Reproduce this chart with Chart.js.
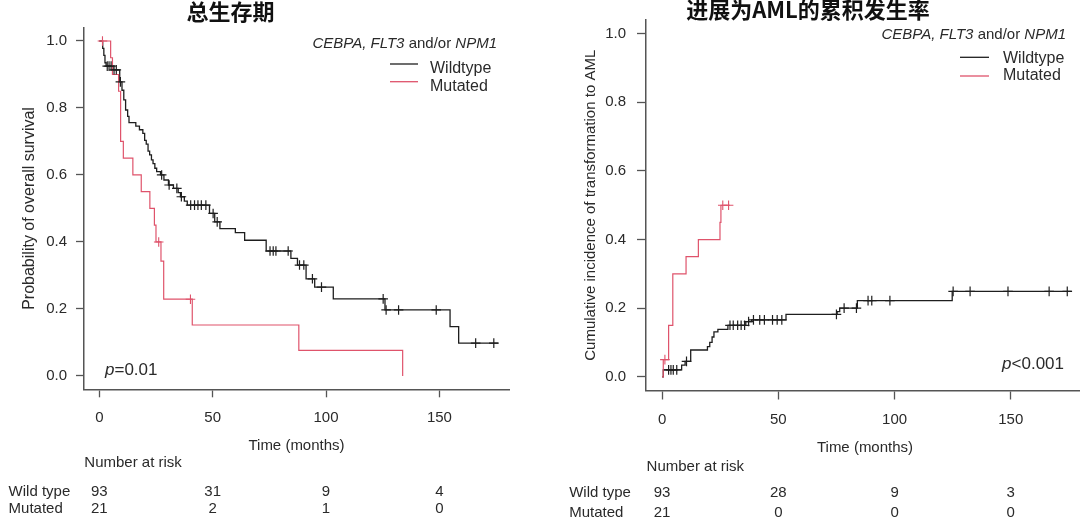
<!DOCTYPE html>
<html><head><meta charset="utf-8">
<script src="https://cdn.jsdelivr.net/npm/chart.js@4.4.1/dist/chart.umd.min.js"></script>
<style>
html,body{margin:0;padding:0;background:#fff;overflow:hidden;width:1080px;height:521px;}
#wrap{position:relative;width:1080px;height:521px;overflow:hidden;background:#fff;}
canvas{position:absolute;top:0;}
#c1{left:0;} #c2{left:540px;}
</style></head><body>
<div id="wrap"><canvas id="c1" width="540" height="521"></canvas><canvas id="c2" width="560" height="521"></canvas></div>
<script>
// ---------- data ----------
const xTicks = [0, 50, 100, 150];
const yTicks = [0, 0.2, 0.4, 0.6, 0.8, 1.0];
const riskTimes = [0, 50, 100, 150];
const groupLabels = ["Wildtype", "Mutated"];
const riskRowLabels = ["Wild type", "Mutated"];

// Overall survival (left)
const osWildSteps = [[0,1.0],[1.5,0.978],[2,0.957],[2.5,0.935],[3,0.925],[6,0.914],[9,0.878],[10,0.853],[10.8,0.824],[11.6,0.794],[12.5,0.775],[13.1,0.756],[16.1,0.746],[17.7,0.735],[19.2,0.724],[20,0.703],[20.7,0.692],[21.5,0.671],[22.2,0.66],[23,0.645],[23.7,0.634],[24.5,0.62],[25.3,0.61],[27,0.6],[28.5,0.585],[30.5,0.57],[32.7,0.56],[34.8,0.547],[35.8,0.535],[37.5,0.522],[38.8,0.51],[48.6,0.485],[50.9,0.46],[53.2,0.44],[60,0.428],[64.1,0.405],[73.6,0.373],[84.5,0.351],[87.4,0.331],[91.2,0.29],[95,0.265],[103.2,0.23],[126,0.197],[154.7,0.147],[158.5,0.098],[176,0.098]];
const osWildCens = [[3.5,0.925],[4.3,0.925],[5.2,0.925],[6.5,0.914],[7.5,0.914],[9.3,0.878],[27.5,0.6],[30.8,0.57],[34.2,0.56],[36.2,0.535],[40.3,0.51],[42,0.51],[43.5,0.51],[45,0.51],[47,0.51],[50.2,0.485],[52,0.46],[75.3,0.373],[76.7,0.373],[77.9,0.373],[83.3,0.373],[88.3,0.331],[90.2,0.331],[94,0.29],[98,0.265],[125.2,0.23],[126.5,0.197],[132,0.197],[148.6,0.197],[166,0.098],[174,0.098]];
const osMutSteps = [[0,1],[5,0.95],[5.8,0.90],[8.5,0.85],[9.4,0.70],[10.6,0.65],[14.8,0.60],[18.5,0.55],[22.3,0.50],[24.3,0.45],[25,0.40],[27.2,0.343],[28.4,0.229],[41,0.152],[88,0.076],[133.8,0]];
const osMutCens = [[1.4,1.0],[26.2,0.40],[40.2,0.229]];
const osRiskWild = [93, 31, 9, 4];
const osRiskMut = [21, 2, 1, 0];

// Cumulative incidence of AML (right)
const cifWildSteps = [[0,0],[0.5,0.02],[8.4,0.034],[9.9,0.045],[12.3,0.078],[19.5,0.088],[20.5,0.10],[21.5,0.116],[22.3,0.131],[24,0.138],[28.3,0.15],[36,0.161],[38.5,0.166],[53.3,0.182],[75.3,0.19],[76.4,0.2],[84,0.222],[124.8,0.249],[176.2,0.249]];
const cifWildCens = [[2.8,0.02],[3.8,0.02],[4.8,0.02],[6.3,0.02],[10.5,0.045],[29.2,0.15],[30.6,0.15],[32.5,0.15],[34,0.15],[35.5,0.15],[37.2,0.161],[39.3,0.166],[42,0.166],[44,0.166],[47.5,0.166],[49.5,0.166],[51.5,0.166],[75,0.182],[78.3,0.2],[83.6,0.2],[88.6,0.222],[90.2,0.222],[98,0.222],[125.2,0.249],[132.5,0.249],[148.8,0.249],[166.5,0.249],[174.3,0.249]];
const cifMutSteps = [[0,0],[0.5,0.05],[2.8,0.15],[4.6,0.30],[10.3,0.35],[15.6,0.40],[24.9,0.45],[25.3,0.50],[29.2,0.50]];
const cifMutCens = [[1.2,0.05],[26.1,0.50],[28.6,0.50]];
const cifRiskWild = [93, 28, 9, 3];
const cifRiskMut = [21, 0, 0, 0];

// ---------- drawing ----------
const FF = "'Liberation Sans', Arial, Helvetica, sans-serif";
const CJK = "'Noto Sans CJK SC', 'Noto Sans CJK JP', sans-serif";
const BLACK = '#1e1e1e';
const RED = '#DF536B';
const AXIS = '#555555';
const TXT = '#2a2a2a';
Chart.defaults.font.family = FF;
Chart.defaults.color = TXT;

const toXY = arr => arr.map(p => ({x: p[0], y: p[1]}));

function drawRich(ctx, parts, x, y, align, size) {
  const widths = parts.map(p => { ctx.font = (p[1] ? 'italic ' : '') + size + 'px ' + FF; return ctx.measureText(p[0]).width; });
  const total = widths.reduce((a, b) => a + b, 0);
  let cx = align === 'right' ? x - total : x;
  ctx.textAlign = 'left'; ctx.textBaseline = 'middle'; ctx.fillStyle = TXT;
  parts.forEach((p, i) => { ctx.font = (p[1] ? 'italic ' : '') + size + 'px ' + FF; ctx.fillText(p[0], cx, y); cx += widths[i]; });
}

const annotPlugin = {
  id: 'annot',
  afterDraw(chart, args, o) {
    const ctx = chart.ctx;
    const xs = chart.scales.x;
    ctx.save();
    // title
    ctx.fillStyle = '#111';
    ctx.font = 'bold 22px ' + CJK;
    ctx.textAlign = 'center'; ctx.textBaseline = 'middle';
    ctx.fillText(o.title, o.titleX, o.titleY);
    // legend header
    drawRich(ctx, [['CEBPA, FLT3', true], [' and/or ', false], ['NPM1', true]], o.legRight, o.legHeadY, 'right', 15);
    // legend entries
    const cols = [BLACK, RED];
    for (let i = 0; i < 2; i++) {
      ctx.strokeStyle = cols[i]; ctx.lineWidth = 1.3;
      ctx.beginPath(); ctx.moveTo(o.legLineX0, o.legLineY[i]); ctx.lineTo(o.legLineX1, o.legLineY[i]); ctx.stroke();
      ctx.fillStyle = TXT; ctx.font = '16px ' + FF; ctx.textAlign = 'left'; ctx.textBaseline = 'middle';
      ctx.fillText(groupLabels[i], o.legTextX, o.legTextY[i]);
    }
    // p-value
    drawRich(ctx, [['p', true], [o.pText, false]], o.pX, o.pY, o.pAlign, 17);
    // number at risk
    ctx.fillStyle = TXT; ctx.font = '15px ' + FF; ctx.textBaseline = 'middle';
    ctx.textAlign = 'left';
    ctx.fillText('Number at risk', o.narX, o.narY);
    for (let r = 0; r < 2; r++) {
      ctx.textAlign = 'left';
      ctx.fillText(riskRowLabels[r], o.rowLabelX, o.rowY[r]);
      ctx.textAlign = 'center';
      o.risk[r].forEach((n, i) => ctx.fillText(String(n), xs.getPixelForValue(riskTimes[i]), o.rowY[r]));
    }
    ctx.restore();
  }
};

function makePanel(canvas, P) {
  return new Chart(canvas, {
    type: 'line',
    data: {
      datasets: [
        {data: toXY(P.wildSteps), borderColor: BLACK, borderWidth: 1.3, stepped: true, pointRadius: 0, fill: false, order: 3},
        {data: toXY(P.mutSteps), borderColor: RED, borderWidth: 1.2, stepped: true, pointRadius: 0, fill: false, order: 2},
        {data: toXY(P.wildCens), showLine: false, pointStyle: 'cross', pointRadius: 4.8, pointBorderColor: BLACK, pointBorderWidth: 1.2, borderColor: BLACK, order: 1, clip: false},
        {data: toXY(P.mutCens), showLine: false, pointStyle: 'cross', pointRadius: 4.8, pointBorderColor: RED, pointBorderWidth: 1.1, borderColor: RED, order: 0, clip: false}
      ]
    },
    options: {
      responsive: false, animation: false, devicePixelRatio: 1,
      layout: {padding: {left: 0, top: P.top, right: P.padRight, bottom: 0}},
      plugins: {legend: {display: false}, tooltip: {enabled: false}, annot: P.annot},
      elements: {point: {hoverRadius: 0}},
      scales: {
        x: {
          type: 'linear', min: P.xMin, max: P.xMax,
          afterBuildTicks: s => { s.ticks = xTicks.map(v => ({value: v})); },
          afterFit: s => { s.height = P.xHeight; },
          grid: {display: true, drawOnChartArea: false, drawTicks: true, tickLength: P.tickLen, tickColor: AXIS, tickWidth: 1.3},
          border: {display: true, color: AXIS, width: 1.5},
          ticks: {padding: P.xPad, color: TXT, font: {size: 15}, maxRotation: 0, autoSkip: false},
          title: {display: true, text: 'Time (months)', color: TXT, font: {size: 15}, padding: {top: 0, bottom: P.xTitlePad}}
        },
        y: {
          type: 'linear', min: -0.04, max: 1.04,
          afterBuildTicks: s => { s.ticks = yTicks.map(v => ({value: v})); },
          afterFit: s => { s.width = P.yWidth; },
          grid: {display: true, drawOnChartArea: false, drawTicks: true, tickLength: P.tickLen, tickColor: AXIS, tickWidth: 1.3},
          border: {display: true, color: AXIS, width: 1.5},
          ticks: {padding: P.yPad, color: TXT, font: {size: 15}, callback: v => Number(v).toFixed(1)},
          title: {display: true, text: P.yTitle, color: TXT, font: {size: P.yTitleSize}, padding: {top: P.yTitlePad, bottom: 0}}
        }
      }
    },
    plugins: [annotPlugin]
  });
}

makePanel(document.getElementById('c1'), {
  wildSteps: osWildSteps, mutSteps: osMutSteps, wildCens: osWildCens, mutCens: osMutCens,
  xMin: -6.75, xMax: 180.7, top: 27.6, padRight: 31, yWidth: 84, xHeight: 131.7,
  tickLen: 8, xPad: 12, yPad: 9, xTitlePad: 66, yTitlePad: 20.4, yTitleSize: 16,
  yTitle: 'Probability of overall survival',
  annot: {
    title: '总生存期', titleX: 230.5, titleY: 12,
    legRight: 497, legHeadY: 44, legLineX0: 390, legLineX1: 418, legLineY: [64, 81.7], legTextX: 430, legTextY: [69, 86.7],
    pText: '=0.01', pX: 105, pY: 370.7, pAlign: 'left',
    narX: 84.3, narY: 463.3, rowLabelX: 8.6, rowY: [492, 509], risk: [osRiskWild, osRiskMut]
  }
});

makePanel(document.getElementById('c2'), {
  wildSteps: cifWildSteps, mutSteps: cifMutSteps, wildCens: cifWildCens, mutCens: cifMutCens,
  xMin: -6.93, xMax: 181.5, top: 18.5, padRight: 16, yWidth: 106, xHeight: 130.5,
  tickLen: 9, xPad: 11.5, yPad: 11, xTitlePad: 63.7, yTitlePad: 41.7, yTitleSize: 15,
  yTitle: 'Cumulative incidence of transformation to AML',
  annot: {
    title: '进展为AML的累积发生率', titleX: 268, titleY: 10,
    legRight: 526, legHeadY: 35, legLineX0: 420, legLineX1: 449, legLineY: [57.3, 76], legTextX: 463, legTextY: [58.3, 76],
    pText: '<0.001', pX: 524, pY: 364.3, pAlign: 'right',
    narX: 106.6, narY: 467.3, rowLabelX: 29.2, rowY: [493.3, 512.7], risk: [cifRiskWild, cifRiskMut]
  }
});
</script>
</body></html>
